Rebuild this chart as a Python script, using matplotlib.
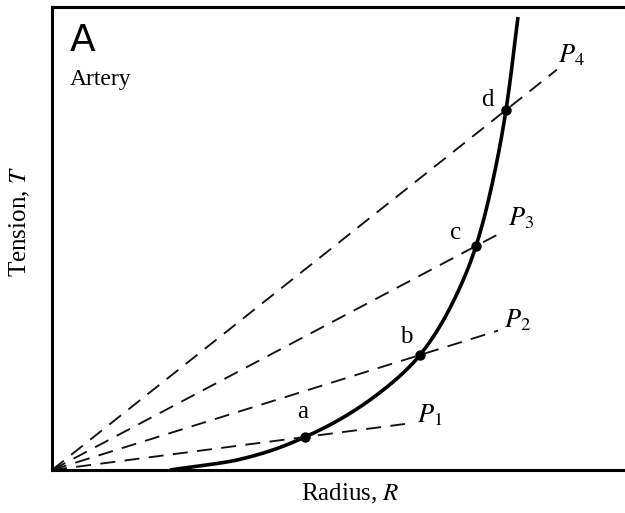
import numpy as np
import matplotlib
matplotlib.use("Agg")
import matplotlib.pyplot as plt

plt.rcParams["mathtext.fontset"] = "stix"
plt.rcParams["font.family"] = "Liberation Serif"

# wall tension vs radius for an artery (arbitrary units)
curve_T = [0.00, 0.10, 0.33, 0.73, 1.15, 1.70, 2.24, 2.90, 3.60, 4.53]
curve_R = [1.18, 1.85, 2.53, 3.22, 3.68, 4.02, 4.24, 4.41, 4.54, 4.66]

# operating points a-d where the pressure lines cross the curve
pt_names = ["a", "b", "c", "d"]
pt_R = [2.53, 3.68, 4.24, 4.54]
pt_T = [0.33, 1.15, 2.24, 3.60]

# Laplace lines T = P*R, drawn out to these radii
line_names = ["$P_1$", "$P_2$", "$P_3$", "$P_4$"]
line_end_R = [3.53, 4.46, 4.48, 5.05]


def pchip(x, y, xs):
    # monotone cubic (Fritsch-Carlson) so the curve keeps bending one way
    x = np.asarray(x, float)
    y = np.asarray(y, float)
    h = np.diff(x)
    d = np.diff(y) / h
    m = np.zeros_like(y)
    for i in range(1, len(x) - 1):
        if d[i - 1] * d[i] > 0:
            w1 = 2 * h[i] + h[i - 1]
            w2 = h[i] + 2 * h[i - 1]
            m[i] = (w1 + w2) / (w1 / d[i - 1] + w2 / d[i])
    m[0] = d[0]
    m[-1] = d[-1]
    idx = np.clip(np.searchsorted(x, xs) - 1, 0, len(h) - 1)
    t = (xs - x[idx]) / h[idx]
    h00 = 2 * t ** 3 - 3 * t ** 2 + 1
    h10 = t ** 3 - 2 * t ** 2 + t
    h01 = -2 * t ** 3 + 3 * t ** 2
    h11 = t ** 3 - t ** 2
    return (h00 * y[idx] + h10 * h[idx] * m[idx]
            + h01 * y[idx + 1] + h11 * h[idx] * m[idx + 1])


fig = plt.figure(figsize=(6.25, 5.13), dpi=100)
ax = fig.add_axes([52 / 625, 43 / 513, 573 / 625, 463 / 513])
ax.set_xlim(0, 5.73)
ax.set_ylim(0, 4.63)

for r, t, r_end in zip(pt_R, pt_T, line_end_R):
    slope = t / r
    ax.plot([0, r_end], [0, slope * r_end], color="#111111", lw=1.35,
            dashes=(8, 5), solid_capstyle="butt")

ts = np.linspace(curve_T[0], curve_T[-1], 400)
ax.plot(pchip(curve_T, curve_R, ts), ts, color="black", lw=2.6,
        solid_capstyle="butt")
ax.plot(pt_R, pt_T, "o", color="black", ms=6.5)

# point labels
lab_off = [(-0.02, 0.25), (-0.14, 0.18), (-0.20, 0.13), (-0.19, 0.10)]
for name, r, t, (dx, dy) in zip(pt_names, pt_R, pt_T, lab_off):
    ax.text(r + dx, t + dy, name, fontsize=18, ha="center", va="center")

lab_pos = [(3.65, 0.55), (4.52, 1.50), (4.56, 2.52), (5.06, 4.15)]
for name, (x, y) in zip(line_names, lab_pos):
    ax.text(x, y, name, fontsize=19, ha="left", va="center")

ax.text(0.18, 4.29, "A", fontsize=27, family="DejaVu Sans", ha="left", va="center")
ax.text(0.18, 3.90, "Artery", fontsize=17, ha="left", va="center")

fig.text(350 / 625, 1 - 494 / 513, "Radius, $R$", fontsize=18, ha="center", va="center")
fig.text(20 / 625, 1 - 222 / 513, "Tension, $T$", fontsize=18, ha="center", va="center",
         rotation=90)

ax.set_xticks([])
ax.set_yticks([])
ax.spines["right"].set_visible(False)
for side in ("left", "top", "bottom"):
    ax.spines[side].set_linewidth(2.2)

fig.savefig("out.png", dpi=100)
